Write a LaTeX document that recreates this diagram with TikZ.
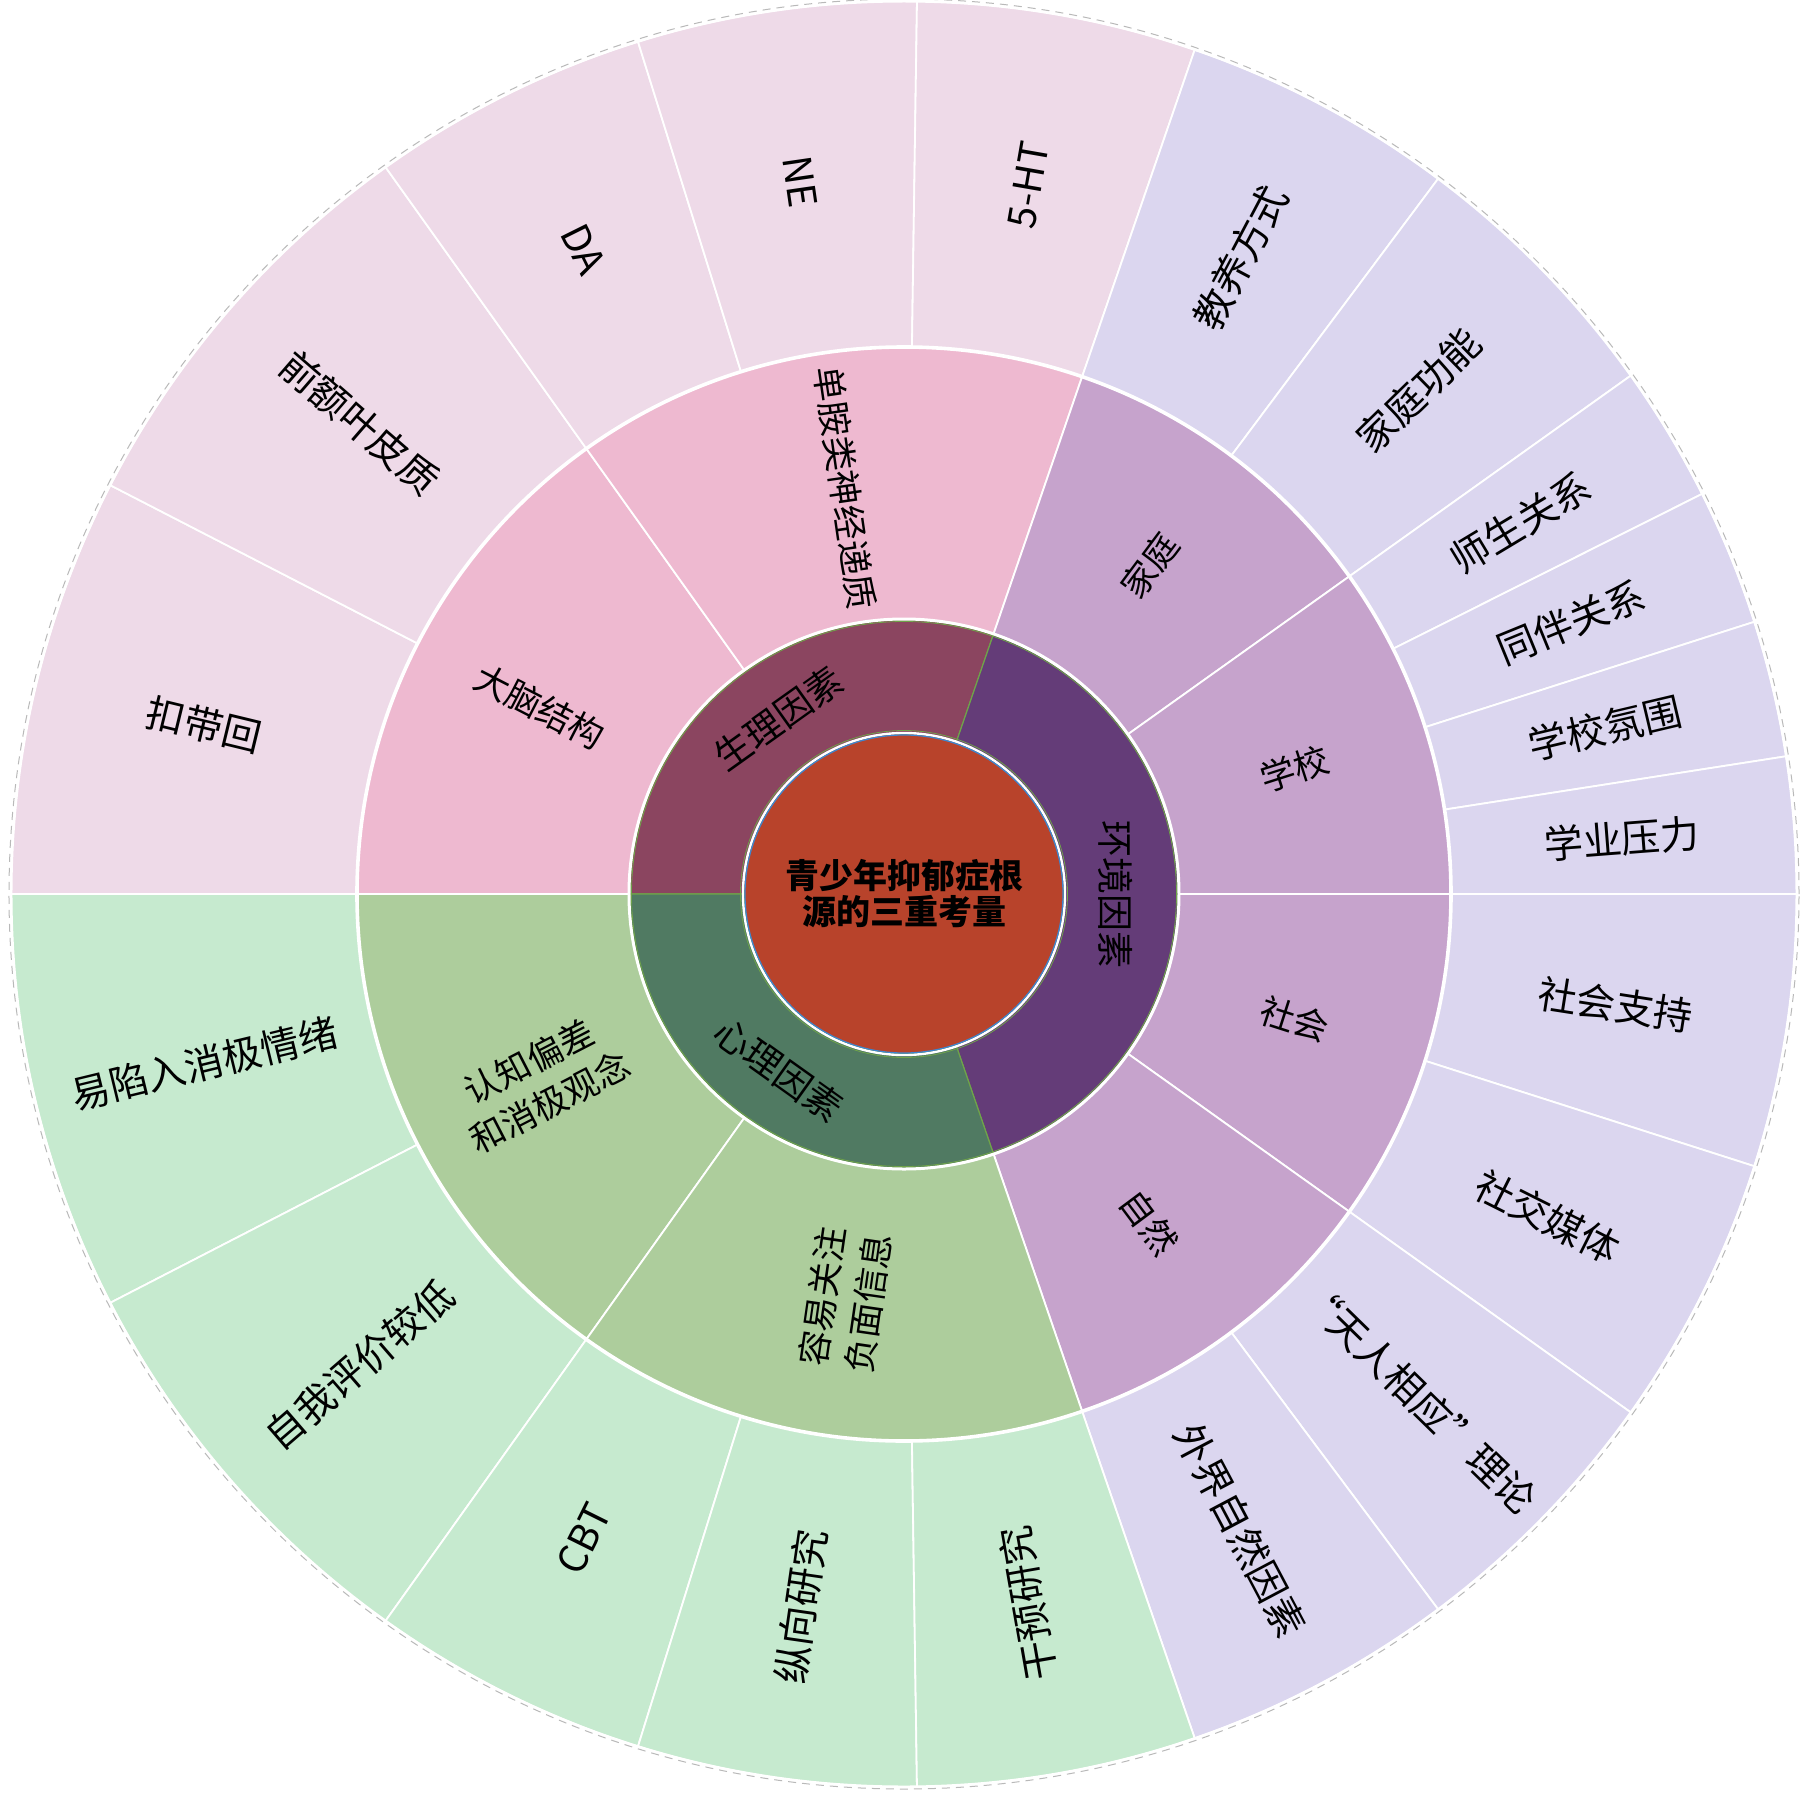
\documentclass[tikz,border=0pt]{standalone}
\usepackage{fontspec}
\setmainfont{Noto Sans CJK SC}
\definecolor{coreRed}{HTML}{B8432B}
\definecolor{coreBlue}{HTML}{3F86D0}
\definecolor{ringGreen}{HTML}{6FA34A}
\definecolor{bioDark}{HTML}{8B4560}
\definecolor{envDark}{HTML}{643C78}
\definecolor{psyDark}{HTML}{507A62}
\definecolor{bioMid}{HTML}{EEB9D0}
\definecolor{envMid}{HTML}{C6A3CC}
\definecolor{psyMid}{HTML}{ADCD9C}
\definecolor{bioLight}{HTML}{EEDAE8}
\definecolor{envLight}{HTML}{DBD6EF}
\definecolor{psyLight}{HTML}{C6EACF}
\tikzset{
    ringsector/.style={draw=white,line width=0.9pt},
    basesector/.style={draw=ringGreen,line width=0.6pt},
    corelabel/.style={font=\fontsize{17}{18}\selectfont\bfseries,align=center,inner sep=0pt},
    baselabel/.style={font=\fontsize{18.5}{20}\selectfont,inner sep=0pt},
    branchlabel/.style={font=\fontsize{17.5}{23}\selectfont,align=center,inner sep=0pt},
    leaflabel/.style={font=\fontsize{19.5}{22}\selectfont,inner sep=0pt}
}

\begin{document}
\begin{tikzpicture}[x=0.5pt,y=0.5pt]
  \useasboundingbox (-904,-901) rectangle (899,894);

  % outer ring
  \foreach \a/\b/\c/\t [count=\i] in {
      152.75/180/bioLight/扣带回, 125.5/152.75/bioLight/前额叶皮质,
      107.333/125.5/bioLight/DA, 89.1667/107.333/bioLight/NE,
      71/89.1667/bioLight/5-HT,
      53.25/71/envLight/教养方式, 35.5/53.25/envLight/家庭功能,
      26.625/35.5/envLight/师生关系, 17.75/26.625/envLight/同伴关系,
      8.875/17.75/envLight/学校氛围, 0/8.875/envLight/学业压力,
      -17.75/0/envLight/社会支持, -35.5/-17.75/envLight/社交媒体,
      -53.25/-35.5/envLight/“天人相应”理论, -71/-53.25/envLight/外界自然因素,
      180/207.25/psyLight/易陷入消极情绪, 207.25/234.5/psyLight/自我评价较低,
      234.5/252.667/psyLight/CBT, 252.667/270.833/psyLight/纵向研究,
      270.833/289/psyLight/干预研究}{
    \pgfmathsetmacro\m{(\a+\b)/2}
    \pgfmathsetmacro\rot{ifthenelse(\m>90,\m-180,\m)}
    \fill[\c,ringsector] (\a:547) arc[start angle=\a,end angle=\b,radius=547]
      -- (\b:893) arc[start angle=\b,end angle=\a,radius=893] -- cycle;
    \node[leaflabel,rotate=\rot] (leaf\i) at (\m:720) {\t};
  }

  % middle ring
  \foreach \a/\b/\c/\t [count=\i] in {
      125.5/180/bioMid/大脑结构, 71/125.5/bioMid/单胺类神经递质,
      35.5/71/envMid/家庭, 0/35.5/envMid/学校,
      -35.5/0/envMid/社会, -71/-35.5/envMid/自然,
      180/234.5/psyMid/{认知偏差\\和消极观念},
      234.5/289/psyMid/{容易关注\\负面信息}}{
    \pgfmathsetmacro\m{(\a+\b)/2}
    \pgfmathsetmacro\rot{ifthenelse(\m>90,\m-180,\m)}
    \fill[\c,ringsector] (\a:274) arc[start angle=\a,end angle=\b,radius=274]
      -- (\b:547) arc[start angle=\b,end angle=\a,radius=547] -- cycle;
    \node[branchlabel,rotate=\rot] (branch\i) at (\m:410) {\t};
  }

  % inner ring
  \foreach \a/\b/\c in {71/180/bioDark, -71/71/envDark, 180/289/psyDark}
    \fill[\c,basesector] (\a:159) arc[start angle=\a,end angle=\b,radius=159]
      -- (\b:274) arc[start angle=\b,end angle=\a,radius=274] -- cycle;

  \draw[white,line width=1.5pt] (0,0) circle (275);
  \draw[ringGreen,line width=0.4pt] (0,0) circle (272.5);
  \draw[white,line width=1.8pt] (0,0) circle (547);
  \draw[white,line width=1.5pt] (0,0) circle (893);
  \draw[gray!55,line width=0.5pt,dash pattern=on 4pt off 3pt] (0,0) circle (895);

  \fill[coreRed] (0,0) circle (159);
  \draw[ringGreen,line width=0.4pt] (0,0) circle (163.5);
  \draw[white,line width=1.2pt] (0,0) circle (161);
  \draw[coreBlue,line width=0.6pt] (0,0) circle (159);

  \node[baselabel,rotate=35.5] (bio) at (125.5:216) {生理因素};
  \node[baselabel,rotate=-90] (env) at (0:212) {环境因素};
  \node[baselabel,rotate=-35.5] (psy) at (234.5:216) {心理因素};
  \node[corelabel] (core) at (0,0) {青少年抑郁症根\\源的三重考量};
\end{tikzpicture}
\end{document}
